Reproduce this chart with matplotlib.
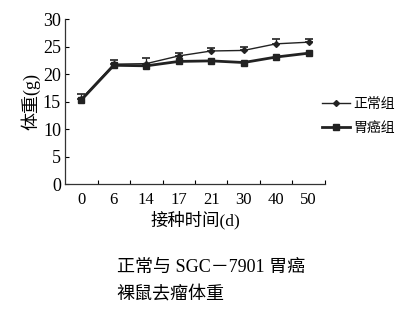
import matplotlib
matplotlib.use("Agg")
import matplotlib.pyplot as plt
from matplotlib.lines import Line2D
import numpy as np

plt.rcParams['font.family'] = ['Liberation Serif', 'Noto Sans CJK SC']

days = ['0', '6', '14', '17', '21', '30', '40', '50']
normal = [15.5, 21.8, 21.9, 23.3, 24.2, 24.3, 25.5, 25.8]
normal_err = [0.8, 0.7, 1.1, 0.6, 0.6, 0.6, 0.8, 0.6]
cancer = [15.3, 21.6, 21.5, 22.3, 22.4, 22.1, 23.1, 23.8]
cancer_err = [0.5, 0.5, 0.5, 0.5, 0.5, 0.5, 0.5, 0.5]
yticks = [0, 5, 10, 15, 20, 25, 30]

fig = plt.figure(figsize=(4.02, 3.13), dpi=100)
ax = fig.add_axes([0.162, 0.412, 0.646, 0.527])
x = np.arange(len(days))

ax.errorbar(x, normal, yerr=[np.zeros(len(normal)), normal_err], color='#222222',
            lw=1.0, marker='D', ms=3, capsize=3, elinewidth=0.9, capthick=1.2)
ax.errorbar(x, cancer, yerr=[np.zeros(len(cancer)), cancer_err], color='#222222',
            lw=2.0, marker='s', ms=4.5, capsize=0, elinewidth=0.9)

ax.set_xlim(-0.5, 7.5)
ax.set_ylim(0, 30)
ax.set_yticks(yticks)
ax.set_yticklabels([str(v) for v in yticks], fontsize=13)
ax.set_xticks(x + 0.5)
ax.set_xticklabels([])
ax.set_xticks(x, minor=True)
ax.set_xticklabels(days, minor=True, fontsize=12)
ax.tick_params(axis='x', which='minor', length=0, pad=6)
ax.tick_params(axis='x', which='major', direction='in', length=3, width=0.8)
ax.tick_params(axis='y', direction='in', length=3, width=0.8, pad=3)
for s in ['top', 'right']:
    ax.spines[s].set_visible(False)
for s in ['left', 'bottom']:
    ax.spines[s].set_linewidth(0.9)
    ax.spines[s].set_color('#333333')

ax.set_ylabel('体重(g)', fontsize=13, labelpad=2)
ax.set_xlabel('接种时间(d)', fontsize=12.5, labelpad=2)

handles = [Line2D([], [], color='#222222', lw=1.0, marker='D', ms=3),
           Line2D([], [], color='#222222', lw=2.0, marker='s', ms=4.5)]
ax.legend(handles, ['正常组', '胃癌组'], loc='center left',
          bbox_to_anchor=(0.94, 0.41), frameon=False,
          fontsize=10, handlelength=2.0, handletextpad=0.3, labelspacing=0.8)

fig.text(0.29, 0.145, '正常与 SGC－7901 胃癌', fontsize=13, ha='left', va='center')
fig.text(0.29, 0.058, '裸鼠去瘤体重', fontsize=13, ha='left', va='center')

fig.savefig('out.png', dpi=100)
